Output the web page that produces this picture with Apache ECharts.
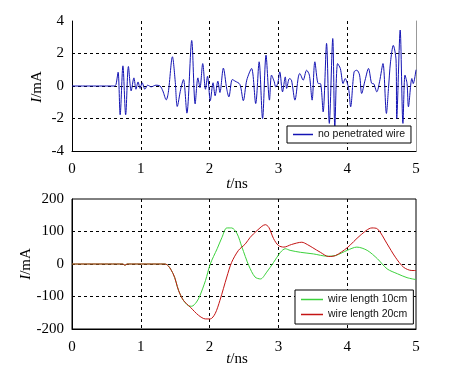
<!DOCTYPE html>
<html><head><meta charset="utf-8">
<script src="https://cdn.jsdelivr.net/npm/echarts@6/dist/echarts.min.js"></script>
<style>html,body{margin:0;padding:0;background:#fff}#c{width:466px;height:375px}</style>
</head><body><div id="c"></div>
<script>
// ---- data ----
const xTicks = [0, 1, 2, 3, 4, 5];
const topYTicks = [-4, -2, 0, 2, 4];
const botYTicks = [-200, -100, 0, 100, 200];

const topName = 'no penetrated wire';
const topT = [0, 0.5, 0.62, 0.64, 0.67, 0.70, 0.74, 0.78, 0.82, 0.86, 0.90, 0.93, 0.96, 0.99, 1.02, 1.06, 1.10, 1.15, 1.22, 1.28,
  1.32, 1.37, 1.40, 1.46, 1.50, 1.53, 1.58, 1.62, 1.67, 1.74, 1.79, 1.83, 1.86, 1.90, 1.94, 1.97, 2.01, 2.05, 2.08, 2.12,
  2.15, 2.20, 2.25, 2.28, 2.33, 2.37, 2.44, 2.49, 2.54, 2.61, 2.67, 2.72, 2.77, 2.82, 2.87, 2.90, 2.94, 2.96, 2.99, 3.02,
  3.06, 3.10, 3.12, 3.16, 3.19, 3.24, 3.29, 3.31, 3.36, 3.41, 3.45, 3.49, 3.53, 3.58, 3.61, 3.65, 3.70, 3.74, 3.79, 3.82,
  3.86, 3.90, 3.94, 3.97, 4.02, 4.05, 4.10, 4.14, 4.18, 4.21, 4.26, 4.31, 4.36, 4.38, 4.43, 4.47, 4.52, 4.57, 4.60, 4.63,
  4.67, 4.71, 4.72, 4.77, 4.81, 4.84, 4.87, 4.89, 4.94, 4.96, 5.0];
const topV = [0, 0, 0, 0.1, 0.85, -1.77, 1.24, -1.77, 1.2, -0.3, 0.5, -0.2, 0.25, -0.15, 0.2, -0.2, 0.05, -0.05, 0.05, 0,
  -0.3, -0.85, -0.4, 1.8, 0.3, -1.26, -0.2, 0.4, -1.67, 2.8, -1.1, 0.5, -0.1, 1.38, -0.2, 0.6, -0.9, 0.2, -0.6, 0.3,
  -0.4, 1.1, -0.2, -0.67, 0.4, 0.3, 0.1, -0.9, 0.36, 1.08, -1.08, 1.49, -2.0, 1.9, -0.87, 0.67, 0.26, -0.05, 0.15, 0.87,
  -0.36, 0.56, -0.15, 0.46, 0.36, -0.87, 0.56, 0.77, 0.36, 0.97, 0.67, -0.87, 1.49, 0.15, 0.15, -1.59, 2.62, -2.3, 2.92, -2.5,
  1.38, 1.08, 0.15, 0.46, -0.15, -1.28, 0.87, 0.97, 0.67, -0.46, 0.36, 1.08, 0.15, 0.15, -0.36, 0.26, 1.38, -1.69, -0.15, 1.49,
  2.5, 1.6, -2.0, 3.44, -2.3, 0.67, 0.15, -1.28, 0.46, 0.15, 1.0];

const greenName = 'wire length 10cm';
const greenT = [0, 0.74, 0.77, 0.80, 1.35, 1.47, 1.55, 1.62, 1.69, 1.74, 1.81, 1.86, 1.94, 2.01, 2.11, 2.18, 2.25, 2.32, 2.40, 2.47,
  2.57, 2.66, 2.74, 2.83, 2.93, 3.03, 3.10, 3.17, 3.32, 3.51, 3.71, 3.83, 4.0, 4.14, 4.29, 4.44, 4.58, 4.73, 4.87, 5.0];
const greenV = [0, 0, -4, 0, 0, -30, -82, -112, -128, -130, -117, -97, -51, 0, 47, 82, 111, 111, 93, 52,
  -5, -40, -46, -25, 5, 36, 47, 42, 36, 31, 24, 26, 42, 52, 42, 16, -15, -30, -42, -48];

const redName = 'wire length 20cm';
const redT = [0, 0.74, 0.77, 0.80, 1.35, 1.47, 1.55, 1.62, 1.72, 1.84, 1.94, 2.01, 2.08, 2.15, 2.25, 2.32, 2.42, 2.52, 2.59, 2.69,
  2.81, 2.86, 2.93, 3.0, 3.08, 3.19, 3.34, 3.42, 3.50, 3.61, 3.73, 3.83, 4.0, 4.19, 4.36, 4.44, 4.58, 4.70, 4.82, 4.94, 5.0];
const redV = [0, 0, -4, 0, 0, -30, -82, -112, -133, -158, -169, -169, -153, -112, -40, 5, 42, 62, 82, 103,
  121, 113, 78, 57, 52, 60, 67, 60, 50, 36, 23, 26, 50, 88, 111, 108, 62, 21, -10, -20, -20];

// ---- chart ----
const zip = (a, b) => a.map((t, i) => [t, b[i]]);
const serif = 'Liberation Serif';
const sans = 'Liberation Sans';
const dash = { color: '#000', width: 1, type: [3, 3] };
const richI = { i: { fontStyle: 'italic', fontFamily: serif, fontSize: 15 } };

const chart = echarts.init(document.getElementById('c'), null, { renderer: 'canvas' });
const xAx = (gi) => ({
  type: 'value', gridIndex: gi, min: xTicks[0], max: xTicks[xTicks.length - 1], interval: 1,
  axisLine: { show: true, onZero: false, lineStyle: { color: '#000', width: 1 } },
  axisTick: { show: false },
  axisLabel: { fontFamily: serif, fontSize: 15, color: '#000', margin: 11 },
  splitLine: { show: true, showMinLine: false, showMaxLine: false, lineStyle: dash }
});
const label = (txt, x, y, rot) => ({ type: 'text', x, y, rotation: rot,
  style: { text: txt, rich: richI, fontFamily: serif, fontSize: 15, fill: '#000', align: 'center', verticalAlign: 'middle' } });

chart.setOption({
  animation: false,
  backgroundColor: '#fff',
  grid: [
    { left: 72, top: 21, width: 344, height: 130, show: false },
    { left: 72, top: 199, width: 344, height: 130, show: true, borderColor: '#000', borderWidth: 1, backgroundColor: 'transparent' }
  ],
  xAxis: [ xAx(0), xAx(1) ],
  yAxis: [
    { type: 'value', gridIndex: 0, min: topYTicks[0], max: topYTicks[topYTicks.length - 1], interval: 2,
      axisLine: { show: true, onZero: false, lineStyle: { color: '#000' } }, axisTick: { show: false },
      axisLabel: { fontFamily: serif, fontSize: 15, color: '#000', margin: 8 },
      splitLine: { show: true, showMinLine: false, showMaxLine: false, lineStyle: dash } },
    { type: 'value', gridIndex: 0, min: topYTicks[0], max: topYTicks[topYTicks.length - 1], interval: 2, position: 'right',
      axisLine: { show: true, onZero: false, lineStyle: { color: '#999' } }, axisTick: { show: false },
      axisLabel: { show: false }, splitLine: { show: false } },
    { type: 'value', gridIndex: 1, min: botYTicks[0], max: botYTicks[botYTicks.length - 1], interval: 100,
      axisLine: { show: true, onZero: false, lineStyle: { color: '#000' } }, axisTick: { show: false },
      axisLabel: { fontFamily: serif, fontSize: 15, color: '#000', margin: 8 },
      splitLine: { show: true, showMinLine: false, showMaxLine: false, lineStyle: dash } }
  ],
  legend: [
    { data: [topName], left: 287, top: 126, orient: 'vertical', backgroundColor: '#fff', borderColor: '#000', borderWidth: 1,
      padding: [3, 6, 3, 6], itemWidth: 20, itemHeight: 1.5, icon: 'rect', itemGap: 2,
      textStyle: { fontFamily: sans, fontSize: 10.5, color: '#111' } },
    { data: [greenName, redName], left: 295, top: 290, orient: 'vertical', backgroundColor: '#fff', borderColor: '#000', borderWidth: 1,
      padding: [4, 6, 4, 6], itemWidth: 22, itemHeight: 1.5, icon: 'rect', itemGap: 4,
      textStyle: { fontFamily: sans, fontSize: 10.5, color: '#111' } }
  ],
  graphic: [
    label('{i|t}/ns', 237, 184, 0),
    label('{i|t}/ns', 237, 359, 0),
    label('{i|I}/mA', 37, 87, Math.PI / 2),
    label('{i|I}/mA', 26, 264, Math.PI / 2)
  ],
  series: [
    { name: topName, type: 'line', xAxisIndex: 0, yAxisIndex: 0, data: zip(topT, topV), smooth: 0.3, showSymbol: false,
      lineStyle: { color: '#1414b4', width: 1 }, itemStyle: { color: '#1414b4' } },
    { name: greenName, type: 'line', xAxisIndex: 1, yAxisIndex: 2, data: zip(greenT, greenV), smooth: 0.3, showSymbol: false,
      lineStyle: { color: '#3cd23c', width: 1 }, itemStyle: { color: '#3cd23c' } },
    { name: redName, type: 'line', xAxisIndex: 1, yAxisIndex: 2, data: zip(redT, redV), smooth: 0.3, showSymbol: false,
      lineStyle: { color: '#c41414', width: 1 }, itemStyle: { color: '#c41414' } }
  ]
});
</script></body></html>
